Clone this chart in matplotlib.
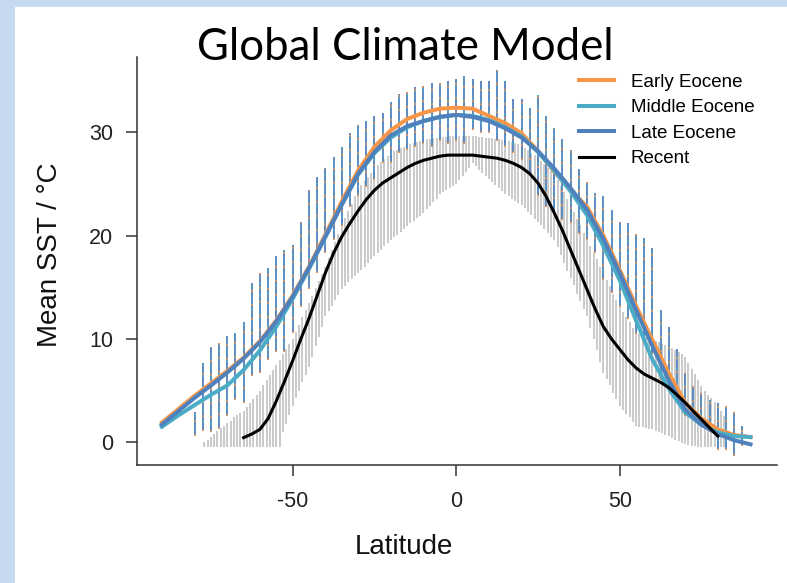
import numpy as np
import matplotlib
matplotlib.use("Agg")
import matplotlib.pyplot as plt
from matplotlib.patches import Rectangle

# ---------------- data ----------------
curve_lat = [-90, -85, -80, -75, -70, -65, -60, -55, -50, -45, -40, -35, -30, -25, -20, -15, -10, -5,
             0, 5, 10, 15, 20, 25, 30, 35, 40, 45, 50, 55, 60, 65, 70, 75, 80, 85, 90]
early_eocene = [1.9, 3.2, 4.5, 5.7, 6.9, 8.2, 9.8, 11.8, 14.2, 17.0, 20.1, 23.3, 26.3, 28.6, 30.2, 31.3, 31.9, 32.3,
                32.4, 32.3, 31.6, 30.9, 29.9, 28.2, 26.2, 24.4, 22.8, 20.0, 16.7, 13.2, 9.9, 6.7, 3.85, 2.3, 1.25, 0.7, 0.5]
middle_eocene = [1.5, 2.6, 3.6, 4.6, 5.5, 7.0, 8.9, 11.2, 13.9, 16.8, 19.9, 23.0, 25.9, 28.0, 29.5, 30.5, 31.1, 31.5,
                 31.7, 31.6, 31.2, 30.5, 29.6, 28.1, 26.3, 24.3, 22.0, 19.0, 15.7, 11.8, 8.0, 5.2, 2.9, 1.7, 0.95, 0.6, 0.5]
late_eocene = [1.7, 3.0, 4.3, 5.5, 6.75, 8.1, 9.7, 11.7, 14.1, 16.9, 19.9, 23.0, 26.0, 28.1, 29.7, 30.6, 31.1, 31.5,
               31.7, 31.5, 31.1, 30.4, 29.5, 28.2, 26.5, 24.6, 22.5, 19.7, 16.4, 12.8, 9.3, 6.0, 3.2, 1.7, 0.8, 0.2, -0.2]

recent_lat = [-65 + 2.5 * i for i in range(59)]
recent = [0.45, 0.8, 1.25, 2.3, 4.0, 5.9, 7.9, 10.0, 12.0, 14.2,
          16.4, 18.3, 19.9, 21.2, 22.4, 23.5, 24.4, 25.1, 25.6, 26.1,
          26.6, 27.0, 27.3, 27.5, 27.7, 27.8, 27.8, 27.8, 27.8, 27.7,
          27.6, 27.5, 27.3, 27.0, 26.6, 26.0, 25.1, 23.8, 22.2, 20.5,
          18.6, 16.7, 14.8, 12.9, 11.2, 10.0, 9.0, 8.0, 7.2, 6.6,
          6.2, 5.8, 5.3, 4.6, 3.85, 3.0, 2.2, 1.4, 0.6]

# Eocene model grid columns (every 2.5 deg): spread of values
eo_lat = [-80 + 2.5 * i for i in range(68)]
eo_top = [2.9, 7.7, 9.2, 9.6, 10.3, 10.6, 11.6, 15.4, 16.4, 16.9, 18.0, 18.6, 19.1, 21.3, 24.4, 25.7, 26.6, 27.6,
          28.6, 29.9, 30.7, 31.1, 31.6, 31.9, 32.9, 33.7, 33.9, 34.4, 34.5, 34.8, 34.8, 35.0, 35.2,
          35.5, 35.2, 35.0, 35.0, 36.0, 35.0, 33.2, 33.2, 32.4, 33.6, 31.6, 30.4, 29.4, 28.3, 26.5, 25.2, 24.1,
          23.8, 22.5, 21.3, 21.2, 20.2, 19.8, 18.8, 12.8, 11.2, 9.0, 6.7, 5.4, 4.8, 4.1, 3.85, 3.5, 2.9, 1.6]
eo_bot = [0.6, 1.1, 1.0, 1.3, 2.5, 4.1, 3.8, 6.4, 6.7, 8.0, 8.7, 8.7, 10.6, 13.1, 14.8, 16.4, 18.3, 19.6,
          20.9, 22.8, 23.8, 24.7, 25.4, 27.0, 27.0, 28.0, 28.3, 28.6, 28.9, 28.6, 29.2, 28.9, 29.2,
          28.9, 30.2, 29.9, 29.9, 29.2, 28.6, 28.0, 27.3, 26.0, 23.8, 22.8, 22.2, 21.5, 21.2, 20.2, 19.6, 18.3,
          15.7, 14.5, 13.1, 11.9, 10.5, 9.5, 8.5, 6.0, 5.0, 4.0, 2.5, 2.5, 1.9, 0.95, -0.7, -0.7, -1.3, -0.4]

# Recent observations (every 1 deg): spread of values
rec_lat = list(range(-77, 83))
rec_top = [0.0, 0.2, 0.5, 0.8, 1.1, 1.4, 1.6, 1.9, 2.1, 2.4, 2.6, 2.8, 3.0,            # -77..-65
           3.4, 3.8, 4.2, 4.6, 5.0, 5.5, 6.0, 6.5, 7.0, 7.5,                           # -64..-55
           8.0, 8.5, 9.0, 9.5, 10.0, 10.7, 11.4, 12.1, 12.8, 13.5,                     # -54..-45
           14.2, 14.9, 15.6, 16.3, 17.0, 17.8, 18.6, 19.4, 20.2, 21.0,                 # -44..-35
           21.7, 22.4, 23.1, 23.8, 24.5, 24.9, 25.3, 25.7, 26.1, 26.5,                 # -34..-25
           26.8, 27.1, 27.4, 27.7, 28.0, 28.2, 28.3, 28.5, 28.6, 28.8,                 # -24..-15
           28.9, 29.0, 29.1, 29.2, 29.3, 29.4, 29.4, 29.5, 29.5, 29.6,                 # -14..-5
           29.6, 29.6, 29.7, 29.7, 29.7, 29.7, 29.7, 29.7, 29.7, 29.7,                 # -4..5
           29.7, 29.6, 29.6, 29.5, 29.5, 29.5, 29.4, 29.4, 29.3, 29.3,                 # 6..15
           29.2, 29.1, 29.0, 28.9, 28.8, 28.5, 28.3, 28.0, 27.8, 27.5,                 # 16..25
           27.2, 26.9, 26.6, 26.3, 26.0, 25.4, 24.8, 24.2, 23.6, 23.0,                 # 26..35
           22.3, 21.6, 21.0, 20.3, 19.6, 19.0, 18.3, 17.7, 17.0, 16.4,                 # 36..45
           15.7, 15.1, 14.4, 13.8, 13.1, 12.6, 12.1, 11.6, 11.1, 10.6,                 # 46..55
           10.5, 10.3, 10.2, 10.0, 9.9, 9.8, 9.7, 9.5, 9.4, 9.3,                       # 56..65
           9.1, 8.9, 8.7, 8.5, 8.3, 7.7, 7.1, 6.6, 6.0, 5.4,                           # 66..75
           5.0, 4.6, 4.3, 3.9, 3.5, 3.0, 2.5]                                          # 76..82
rec_bot = [-0.5] * 24 + [                                                              # -77..-54
           1.0, 1.8, 2.6, 3.5, 4.3, 5.0, 5.8, 6.5, 7.3,                                # -53..-45
           8.3, 9.3, 10.2, 11.2, 12.2, 12.7, 13.2, 13.8, 14.3, 14.8,                   # -44..-35
           15.1, 15.5, 15.8, 16.1, 16.4, 16.7, 17.0, 17.4, 17.7, 18.0,                 # -34..-25
           18.3, 18.6, 19.0, 19.3, 19.6, 19.9, 20.1, 20.4, 20.6, 20.9,                 # -24..-15
           21.2, 21.4, 21.7, 21.9, 22.2, 22.6, 22.9, 23.3, 23.6, 24.0,                 # -14..-5
           24.2, 24.4, 24.6, 24.8, 25.0, 25.4, 25.8, 26.2, 26.6, 27.0,                 # -4..5
           26.7, 26.4, 26.1, 25.8, 25.5, 25.2, 24.9, 24.6, 24.3, 24.0,                 # 6..15
           23.8, 23.6, 23.4, 23.2, 23.0, 22.7, 22.3, 22.0, 21.6, 21.3,                 # 16..25
           21.0, 20.6, 20.3, 19.9, 19.6, 18.9, 18.1, 17.4, 16.6, 15.9,                 # 26..35
           15.2, 14.4, 13.7, 12.9, 12.2, 11.1, 10.0, 8.9, 7.8, 6.7,                    # 36..45
           6.1, 5.5, 4.8, 4.2, 3.5, 3.1, 2.7, 2.4, 2.0, 1.6,                           # 46..55
           1.5, 1.5, 1.4, 1.3, 1.25, 1.1, 1.0, 0.9, 0.7, 0.6,                          # 56..65
           0.4, 0.2, 0.1, -0.1, -0.2] + [-0.3, -0.4, -0.4] + [-0.5] * 9                # 66..82

x_ticks = [-50, 0, 50]
y_ticks = [0, 10, 20, 30]
series_names = ["Early Eocene", "Middle Eocene", "Late Eocene", "Recent"]
series_colors = ["#f79646", "#4bacc6", "#4f81bd", "#000000"]

# ---------------- figure ----------------
W, H = 787, 583
fig = plt.figure(figsize=(W / 100, H / 100), dpi=100)
fig.patch.set_facecolor("#c6d9f1")
fig.patches.append(Rectangle((15 / W, 0), 1 - 15 / W, 1 - 7 / H, transform=fig.transFigure,
                             facecolor="white", edgecolor="none", zorder=-10))

L, R, T, B = 137, 777, 57, 465
ax = fig.add_axes([L / W, 1 - B / H, (R - L) / W, (B - T) / H])
ax.set_zorder(5)
ax.set_facecolor("none")
ax.set_xlim(-97.6, 98.1)
ax.set_ylim(-2.2, 37.3)

ax.vlines(rec_lat, rec_bot, rec_top, color="#bfbfbf", lw=1.15, zorder=1)
ax.vlines(eo_lat, eo_bot, eo_top, color=series_colors[2], lw=1.3, zorder=2)
# sparse model points of the other two Eocene runs inside the same columns
ax.vlines(eo_lat, eo_bot, eo_top, color=series_colors[1], lw=1.3, zorder=2.1,
          linestyles=[(1.5, (0.8, 5.5))])
ax.vlines(eo_lat, eo_bot, eo_top, color=series_colors[0], lw=1.3, zorder=2.2,
          linestyles=[(0, (0.8, 7.0))])

lw_main = 2.9
ax.plot(curve_lat, early_eocene, color=series_colors[0], lw=lw_main, zorder=3, label=series_names[0])
ax.plot(curve_lat, middle_eocene, color=series_colors[1], lw=lw_main, zorder=4, label=series_names[1])
ax.plot(curve_lat, late_eocene, color=series_colors[2], lw=lw_main, zorder=5, label=series_names[2])
ax.plot(recent_lat, recent, color=series_colors[3], lw=2.2, zorder=6, label=series_names[3])

for s in ["top", "right"]:
    ax.spines[s].set_visible(False)
for s in ["left", "bottom"]:
    ax.spines[s].set_color("#333333")
    ax.spines[s].set_linewidth(1.1)

ax.set_xticks(x_ticks)
ax.set_yticks(y_ticks)
ax.set_xticklabels([str(v) for v in x_ticks])
ax.set_yticklabels([str(v) for v in y_ticks])
ax.tick_params(direction="out", length=8, width=1.1, color="#333333", labelsize=15.5,
               labelcolor="#222222", pad=11)
ax.tick_params(axis="y", pad=9)
for t in ax.get_xticklabels() + ax.get_yticklabels():
    t.set_family("Liberation Sans")

leg = ax.legend(loc="upper left", bbox_to_anchor=((571 - L) / (R - L), 1 + (T - 66) / (B - T)),
                frameon=False, prop={"family": "Liberation Sans", "size": 13.5},
                handlelength=1.9, handletextpad=0.9, labelspacing=0.45, borderaxespad=0)

fig.text(404 / W, 1 - 547 / H, "Latitude", ha="center", va="center",
         family="Liberation Sans", fontsize=20, color="#111111")
fig.text(50 / W, 1 - 255 / H, "Mean SST / °C", ha="center", va="center", rotation=90,
         family="Liberation Sans", fontsize=20, color="#111111")

title = fig.text(405 / W, 1 - 60 / H, "Global Climate Model", ha="center", va="baseline",
                 family="Lato", fontsize=30, color="black")
fig.canvas.draw()
bb = title.get_window_extent()
title.set_fontsize(30 * 415 / bb.width)

fig.savefig("out.png", dpi=100, facecolor=fig.get_facecolor())
